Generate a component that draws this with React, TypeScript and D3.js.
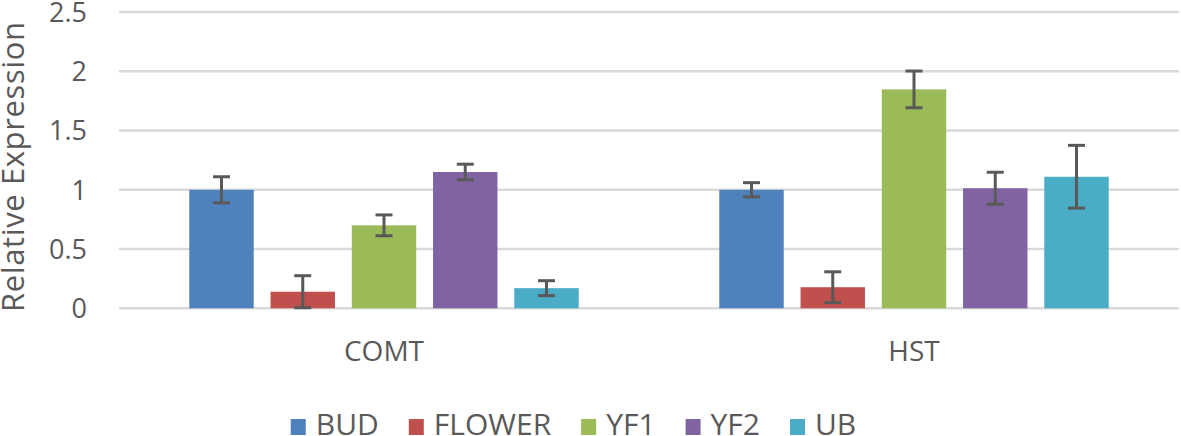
import React, { useEffect, useRef } from "react";
import * as d3 from "d3";

const categories = ["COMT", "HST"];
const series = ["BUD", "FLOWER", "YF1", "YF2", "UB"];
const colors = ["#4F81BD", "#C0504D", "#9BBB59", "#8064A2", "#4BACC6"];
const comtValues = [1.0, 0.14, 0.7, 1.15, 0.17];
const comtErrors = [0.11, 0.135, 0.088, 0.066, 0.063];
const hstValues = [1.0, 0.178, 1.847, 1.013, 1.11];
const hstErrors = [0.06, 0.13, 0.155, 0.135, 0.265];
const yTicks = [0, 0.5, 1, 1.5, 2, 2.5];
const yTickLabels = ["0", "0.5", "1", "1.5", "2", "2.5"];

const W = 1181;
const H = 436;
const FONT = "'Open Sans', sans-serif";
const TEXT = "#595959";

export default function App() {
  const ref = useRef<SVGSVGElement | null>(null);

  useEffect(() => {
    const svg = d3.select(ref.current);
    svg.selectAll("*").remove();

    const left = 119;
    const right = 1179;
    const y = d3.scaleLinear().domain([0, 2.5]).range([308.3, 12]);
    const x0 = d3.scaleBand().domain(categories).range([left, right]).padding(0);
    const groupW = 406.25;
    const x1 = d3
      .scaleBand()
      .domain(series)
      .range([x0.bandwidth() / 2 - groupW / 2, x0.bandwidth() / 2 + groupW / 2])
      .paddingInner(0.207)
      .paddingOuter(0.1035);

    // gridlines
    svg
      .append("g")
      .selectAll("line")
      .data(yTicks)
      .join("line")
      .attr("x1", left)
      .attr("x2", right)
      .attr("y1", (d) => y(d))
      .attr("y2", (d) => y(d))
      .attr("stroke", "#D9D9D9")
      .attr("stroke-width", 2.5);

    // tick labels
    svg
      .append("g")
      .selectAll("text")
      .data(yTicks)
      .join("text")
      .attr("x", 87)
      .attr("y", (d) => y(d))
      .attr("dy", "0.36em")
      .attr("text-anchor", "end")
      .attr("font-family", FONT)
      .attr("font-size", 27)
      .attr("fill", TEXT)
      .text((d, i) => yTickLabels[i]);

    // axis title
    svg
      .append("text")
      .attr("transform", `translate(24,167) rotate(-90)`)
      .attr("text-anchor", "middle")
      .attr("font-family", FONT)
      .attr("font-size", 31)
      .attr("textLength", 290)
      .attr("lengthAdjust", "spacing")
      .attr("fill", TEXT)
      .text("Relative Expression");

    const data = [
      { cat: categories[0], values: comtValues, errors: comtErrors },
      { cat: categories[1], values: hstValues, errors: hstErrors },
    ];

    data.forEach((grp) => {
      const g = svg.append("g").attr("transform", `translate(${x0(grp.cat)},0)`);
      const rows = series.map((s, i) => ({ s, v: grp.values[i], e: grp.errors[i], c: colors[i] }));
      g.selectAll("rect")
        .data(rows)
        .join("rect")
        .attr("x", (d) => x1(d.s)!)
        .attr("width", x1.bandwidth())
        .attr("y", (d) => y(d.v))
        .attr("height", (d) => y(0) - y(d.v))
        .attr("fill", (d) => d.c);

      const eb = g.selectAll("g.eb").data(rows).join("g").attr("class", "eb");
      const cx = (d: any) => x1(d.s)! + x1.bandwidth() / 2;
      const cap = 8.5;
      eb.append("line")
        .attr("x1", cx)
        .attr("x2", cx)
        .attr("y1", (d) => y(d.v + d.e))
        .attr("y2", (d) => y(d.v - d.e))
        .attr("stroke", "#595959")
        .attr("stroke-width", 3);
      eb.append("line")
        .attr("x1", (d) => cx(d) - cap)
        .attr("x2", (d) => cx(d) + cap)
        .attr("y1", (d) => y(d.v + d.e))
        .attr("y2", (d) => y(d.v + d.e))
        .attr("stroke", "#595959")
        .attr("stroke-width", 3);
      eb.append("line")
        .attr("x1", (d) => cx(d) - cap)
        .attr("x2", (d) => cx(d) + cap)
        .attr("y1", (d) => y(d.v - d.e))
        .attr("y2", (d) => y(d.v - d.e))
        .attr("stroke", "#595959")
        .attr("stroke-width", 3);

      svg
        .append("text")
        .attr("x", x0(grp.cat)! + x0.bandwidth() / 2)
        .attr("y", 361)
        .attr("text-anchor", "middle")
        .attr("font-family", FONT)
        .attr("font-size", 28)
        .attr("fill", TEXT)
        .text(grp.cat);
    });

    // legend
    const lg = svg.append("g");
    const sw = 15;
    const gapText = 10;
    const gapItem = 30;
    let xPos = 0;
    series.forEach((s, i) => {
      const item = lg.append("g").attr("transform", `translate(${xPos},0)`);
      item
        .append("rect")
        .attr("x", 0)
        .attr("y", 419)
        .attr("width", sw)
        .attr("height", 16)
        .attr("fill", colors[i]);
      const t = item
        .append("text")
        .attr("x", sw + gapText)
        .attr("y", 435)
        .attr("font-family", FONT)
        .attr("font-size", 30)
        .attr("fill", TEXT)
        .text(s);
      const tw = (t.node() as SVGTextElement).getComputedTextLength();
      xPos += sw + gapText + tw + gapItem;
    });
    const total = xPos - gapItem;
    lg.attr("transform", `translate(${573.5 - total / 2},0)`);
  }, []);

  return (
    <svg
      ref={ref}
      width={W}
      height={H}
      style={{ position: "absolute", left: 0, top: 0, background: "#fff" }}
    />
  );
}
